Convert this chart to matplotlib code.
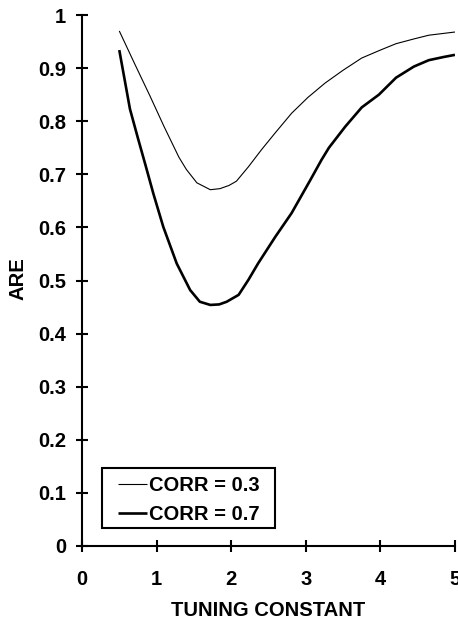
import matplotlib
matplotlib.use("Agg")
import matplotlib.pyplot as plt
from matplotlib.patches import Rectangle

# Data
x_corr03 = [0.5, 0.7, 0.91, 1.1, 1.3, 1.4, 1.54, 1.72, 1.85, 1.97, 2.07, 2.23, 2.41, 2.59,
            2.81, 3.03, 3.26, 3.5, 3.75, 4.0, 4.21, 4.45, 4.65, 5.0]
y_corr03 = [0.97, 0.91, 0.848, 0.79, 0.732, 0.709, 0.684, 0.671, 0.673, 0.679, 0.687, 0.714,
            0.747, 0.778, 0.815, 0.845, 0.872, 0.896, 0.919, 0.934, 0.946, 0.955, 0.962, 0.968]

x_corr07 = [0.5, 0.643, 0.75, 0.85, 0.956, 1.09, 1.27, 1.45, 1.58, 1.72, 1.84, 1.94, 2.1,
            2.23, 2.36, 2.59, 2.81, 3.06, 3.21, 3.31, 3.53, 3.75, 3.98, 4.21, 4.45, 4.65,
            4.85, 5.0]
y_corr07 = [0.934, 0.823, 0.768, 0.718, 0.664, 0.601, 0.532, 0.482, 0.460, 0.454, 0.455,
            0.460, 0.473, 0.501, 0.532, 0.582, 0.627, 0.689, 0.727, 0.750, 0.790, 0.826,
            0.850, 0.882, 0.903, 0.915, 0.921, 0.925]

labels = ["CORR = 0.3", "CORR = 0.7"]
x_ticks = [0, 1, 2, 3, 4, 5]
y_ticks = [0, 0.1, 0.2, 0.3, 0.4, 0.5, 0.6, 0.7, 0.8, 0.9, 1]
y_ticklabels = ["0", "0.1", "0.2", "0.3", "0.4", "0.5", "0.6", "0.7", "0.8", "0.9", "1"]

plt.rcParams['font.family'] = ['Liberation Sans', 'DejaVu Sans']

fig = plt.figure(figsize=(4.58, 6.26), dpi=100)
ax = fig.add_axes([0.179, 0.1278, 0.8144, 0.8482])

ax.plot(x_corr03, y_corr03, color='black', lw=0.8, label=labels[0],
        solid_joinstyle='round', solid_capstyle='butt')
ax.plot(x_corr07, y_corr07, color='black', lw=1.9, label=labels[1],
        solid_joinstyle='round', solid_capstyle='butt')

ax.set_xlim(0, 5)
ax.set_ylim(0, 1)
ax.set_xticks(x_ticks)
ax.set_xticklabels([str(t) for t in x_ticks])
ax.set_yticks(y_ticks)
ax.set_yticklabels(y_ticklabels)

for s in ['top', 'right']:
    ax.spines[s].set_visible(False)
for s in ['left', 'bottom']:
    ax.spines[s].set_linewidth(1.5)

ax.tick_params(direction='inout', length=9, width=1.5, labelsize=14.5)
ax.tick_params(axis='y', pad=7)
ax.tick_params(axis='x', pad=12.5)
for lab in ax.get_xticklabels() + ax.get_yticklabels():
    lab.set_fontweight('bold')

ax.set_xlabel("TUNING CONSTANT", fontsize=14.6, fontweight='bold')
ax.set_ylabel("ARE", fontsize=14.6, fontweight='bold')
ax.xaxis.set_label_coords(0.5, -0.1036)
ax.yaxis.set_label_coords(-0.147, 0.503)

leg = ax.legend(loc='center left', bbox_to_anchor=(0.0965, 0.0866),
                prop={'size': 14.5, 'weight': 'bold'},
                frameon=False, handlelength=1.44, handletextpad=0.12,
                borderpad=0, labelspacing=0.5, borderaxespad=0)
ax.add_patch(Rectangle((0.0536, 0.0339), 0.4634, 0.1131, transform=ax.transAxes,
                       fill=False, edgecolor='black', lw=1.5, clip_on=False, zorder=5))

fig.savefig("out.png", dpi=100)
